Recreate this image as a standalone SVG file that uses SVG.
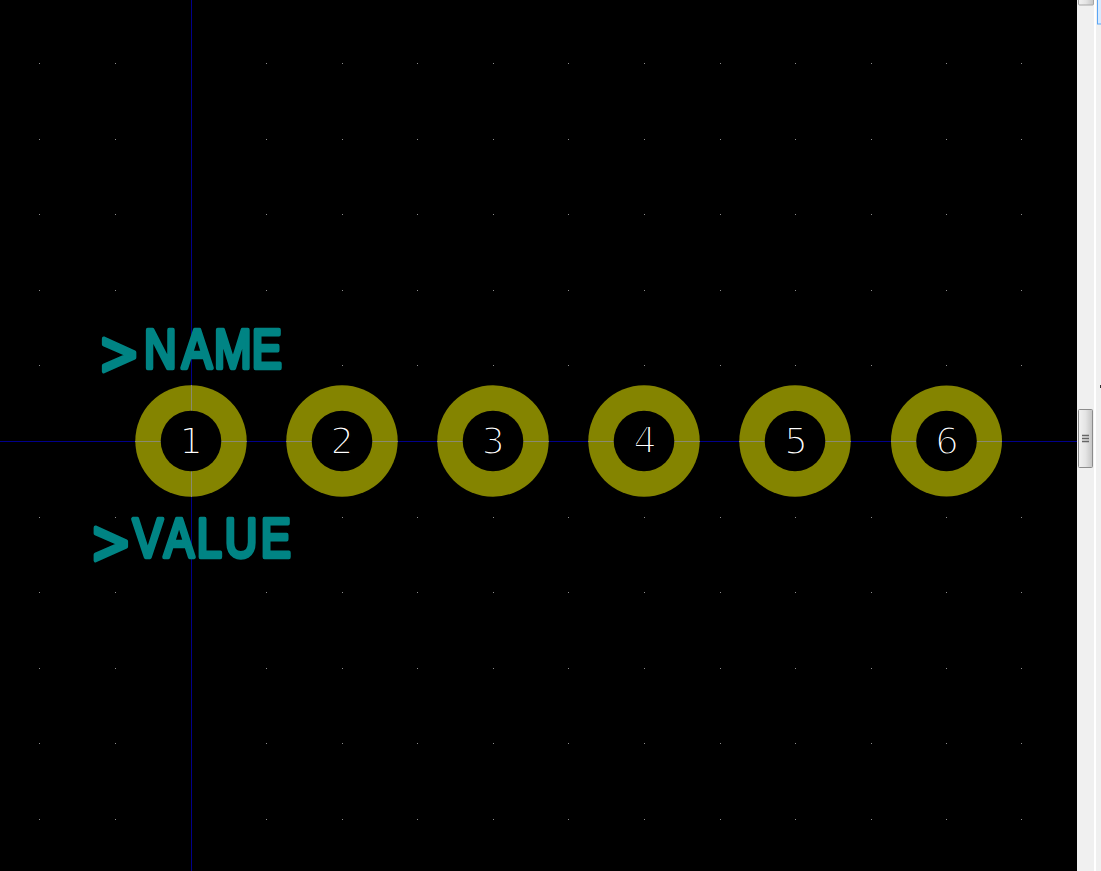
<svg xmlns="http://www.w3.org/2000/svg" width="1101" height="871" viewBox="0 0 1101 871">
<style>
.axis{stroke:#00008b;stroke-width:1;fill:none}
.dots{stroke:#8c8c8c;stroke-width:1;fill:none}
.ann{fill:#848400}
.hole{fill:#000}
.tick{stroke:#8a8a70;stroke-width:1}
.num{font-family:"DejaVu Sans","Liberation Sans",sans-serif;font-size:37px;fill:#fff;stroke:#000;stroke-width:1.9;text-anchor:middle;opacity:.999}
.lbl{font-family:"Liberation Sans Narrow","Liberation Sans",sans-serif;font-size:55px;fill:#008484;stroke:#008484;stroke-width:4.5;stroke-linejoin:round}
.gt{font-family:"DejaVu Sans",sans-serif;font-size:60px}
</style>
<defs>
<path id="row" d="M39 .5h1M115 .5h1M191 .5h1M266 .5h1M342 .5h1M417 .5h1M493 .5h1M568 .5h1M644 .5h1M720 .5h1M795 .5h1M871 .5h1M946 .5h1M1021 .5h1"/>
<linearGradient id="thumb"><stop offset="0" stop-color="#f2f2f2"/><stop offset=".5" stop-color="#e4e4e4"/><stop offset="1" stop-color="#c4c4c4"/></linearGradient>
</defs>
<rect width="1101" height="871" fill="#000"/>
<g id="grid" class="dots">
<use href="#row" y="63"/><use href="#row" y="139"/><use href="#row" y="214"/><use href="#row" y="290"/><use href="#row" y="365"/><use href="#row" y="517"/><use href="#row" y="592"/><use href="#row" y="668"/><use href="#row" y="743"/><use href="#row" y="819"/>
</g>
<g id="connectors">
<path class="axis" d="M0 441.5H1077M191.5 0V871"/>
</g>
<g id="pad1"><circle class="ann" cx="191" cy="441" r="55.7"/><path class="tick" d="M135 441.5H247M191.5 385V497"/><circle class="hole" cx="191" cy="441" r="30.3"/><text class="num" x="191" y="454">1</text></g>
<g id="pad2"><circle class="ann" cx="342" cy="441" r="55.7"/><path class="tick" d="M286 441.5H398"/><circle class="hole" cx="342" cy="441" r="30.3"/><text class="num" x="342" y="454">2</text></g>
<g id="pad3"><circle class="ann" cx="493" cy="441" r="55.7"/><path class="tick" d="M437 441.5H549"/><circle class="hole" cx="493" cy="441" r="30.3"/><text class="num" x="493" y="454">3</text></g>
<g id="pad4"><circle class="ann" cx="644" cy="441" r="55.7"/><path class="tick" d="M588 441.5H700"/><circle class="hole" cx="644" cy="441" r="30.3"/><text class="num" x="645" y="453">4</text></g>
<g id="pad5"><circle class="ann" cx="795" cy="441" r="55.7"/><path class="tick" d="M739 441.5H851"/><circle class="hole" cx="795" cy="441" r="30.3"/><text class="num" x="796" y="454">5</text></g>
<g id="pad6"><circle class="ann" cx="946.5" cy="441" r="55.5"/><path class="tick" d="M891 441.5H1002"/><circle class="hole" cx="946.5" cy="441" r="30.3"/><text class="num" x="947" y="454">6</text></g>
<g id="name-label"><text class="lbl" transform="scale(.82 1)" y="368"><tspan class="gt" x="120" y="374">&gt;</tspan><tspan x="175.6 222 261 307" y="368">NAME</tspan></text></g>
<g id="value-label"><text class="lbl" transform="scale(.82 1)" y="557"><tspan class="gt" x="110" y="563">&gt;</tspan><tspan x="162 200 240 274 318" y="557">VALUE</tspan></text></g>
<g id="scrollbar">
<rect x="1077" y="0" width="24" height="871" fill="#f0f0f0"/>
<rect x="1094" y="0" width="2" height="871" fill="#fff"/>
<rect x="1097.5" y="-2" width="5" height="26" fill="#d8ebff" stroke="#5aa5f5"/>
<rect x="1078.5" y="-2" width="15" height="7" rx="1" fill="url(#thumb)" stroke="#a5a5a5"/>
<rect x="1078.5" y="409.5" width="14" height="58" rx="1" fill="url(#thumb)" stroke="#8c8c8c"/>
<path d="M1082 435.5h7M1082 438.5h7M1082 441.5h7" stroke="#666" stroke-width="1.5"/>
<rect x="1100" y="385" width="1" height="3" fill="#333"/>
</g>
</svg>
